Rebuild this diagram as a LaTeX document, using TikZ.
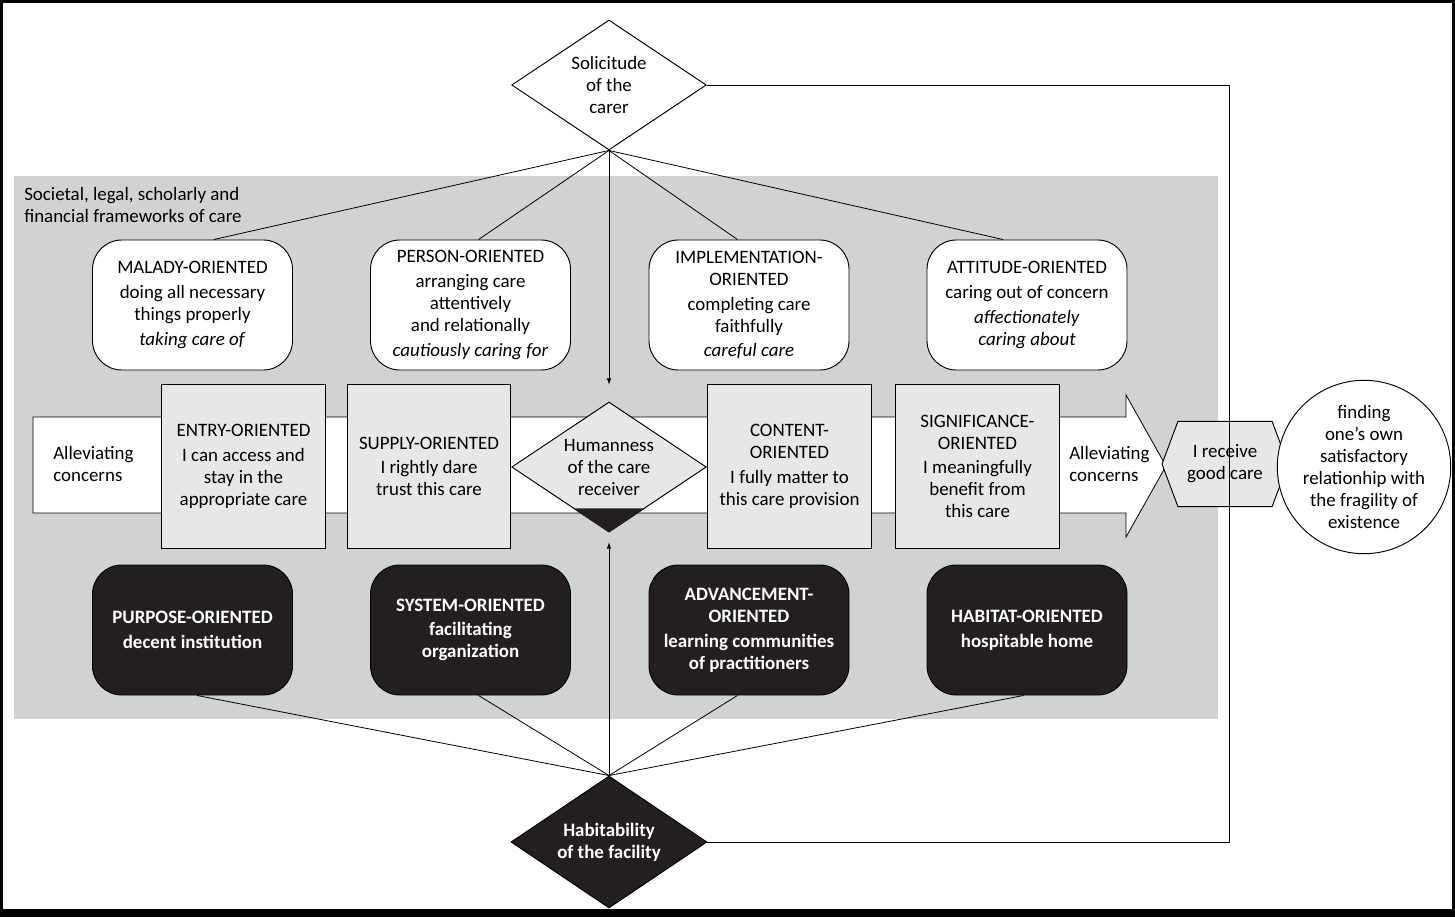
\documentclass[tikz,border=0pt]{standalone}
\usepackage{fontspec}
\setmainfont{Carlito}
\usetikzlibrary{shapes.geometric,shapes.symbols}
\definecolor{panelgray}{HTML}{D1D2D4}
\definecolor{boxgray}{HTML}{E6E7E8}
\definecolor{boxblack}{HTML}{231F20}
\tikzset{
  txt/.style={align=center, inner sep=0pt, font=\fontsize{14.2}{16.5}\selectfont},
  link/.style={line width=0.6pt},
  topbox/.style={txt, draw, line width=0.7pt, fill=white, rounded corners=22pt,
    minimum width=150pt, minimum height=97.5pt},
  basebox/.style={txt, draw, line width=0.7pt, fill=boxblack, text=white,
    font=\bfseries\fontsize{14.2}{16.5}\selectfont, rounded corners=22pt,
    minimum width=150pt, minimum height=97.5pt},
  midbox/.style={txt, draw, line width=0.7pt, fill=boxgray,
    minimum width=122.5pt, minimum height=122.5pt},
  gem/.style={txt, diamond, draw, line width=0.7pt, aspect=1.5},
}
\begin{document}
\begin{tikzpicture}[x=0.75pt, y=-0.75pt]
% page and frame
\fill[black] (0,0) rectangle (1455,917);
\fill[white] (3,3) rectangle (1452,909);
\useasboundingbox (0,0) rectangle (1455,917);
\fill[panelgray] (14,176) rectangle (1218,719);
\node[txt, align=left, anchor=north west] (frame) at (24,187) {Societal, legal, scholarly and\\financial frameworks of care};

% the care path
\draw[link, fill=white] (33,417) -- (1126,417) -- (1126,395) -- (1166,466) -- (1126,537) -- (1126,513) -- (33,513) -- cycle;
\node[txt, align=left, anchor=west] (allevL) at (53,464) {Alleviating\\concerns};
\node[txt, align=left, anchor=west] (allevR) at (1069,464) {Alleviating\\concerns};

% diamonds
\node[gem, fill=white, minimum width=146pt, minimum height=97.5pt] (sol) at (609,85) {Solicitude\\of the\\carer};
\node[gem, fill=boxgray, minimum width=146pt, minimum height=97.5pt] (hum) at (609,467) {Humanness\\of the care\\receiver};
\fill[boxblack] (hum.south) -- ++(-36,-24) -- ++(72,0) -- cycle;
\node[gem, fill=boxblack, text=white, font=\bfseries\fontsize{14.2}{16.5}\selectfont,
  minimum width=147pt, minimum height=99pt] (hab) at (609,842) {Habitability\\of the facility};

% top row
\node[topbox] (mal) at (192.5,305) {MALADY-ORIENTED\\[2pt]doing all necessary\\things properly\\[2pt]\textit{taking care of}};
\node[topbox] (pers) at (470.5,305) {PERSON-ORIENTED\\[2pt]arranging care\\attentively\\and relationally\\[2pt]\textit{cautiously caring for}};
\node[topbox] (impl) at (749,305) {IMPLEMENTATION-\\ORIENTED\\[2pt]completing care\\faithfully\\[2pt]\textit{careful care}};
\node[topbox] (att) at (1027,305) {ATTITUDE-ORIENTED\\[2pt]caring out of concern\\[2pt]\textit{affectionately}\\\textit{caring about}};

% middle row
\node[midbox] (entry) at (243.5,466.5) {ENTRY-ORIENTED\\[2pt]I can access and\\stay in the\\appropriate care};
\node[midbox] (supply) at (429,466.5) {SUPPLY-ORIENTED\\[2pt]I rightly dare\\trust this care};
\node[midbox] (content) at (789.5,466.5) {CONTENT-\\ORIENTED\\[2pt]I fully matter to\\this care provision};
\node[midbox] (sig) at (977.5,466.5) {SIGNIFICANCE-\\ORIENTED\\[2pt]I meaningfully\\benefit from\\this care};

% bottom row
\node[basebox] (purp) at (192.5,630) {PURPOSE-ORIENTED\\[2pt]decent institution};
\node[basebox] (sys) at (470.5,630) {SYSTEM-ORIENTED\\[2pt]facilitating\\organization};
\node[basebox] (adv) at (749,630) {ADVANCEMENT-\\ORIENTED\\[2pt]learning communities\\of practitioners};
\node[basebox] (home) at (1027,630) {HABITAT-ORIENTED\\[2pt]hospitable home};

% outcome
\node[txt, signal, signal to=west and east, signal pointer angle=139, draw, line width=0.7pt,
  fill=boxgray, minimum width=94.5pt, minimum height=64pt] (good) at (1225,464) {I receive\\good care};
\node[txt, circle, draw, line width=0.7pt, fill=white, minimum size=124.5pt] (exist) at (1364,467)
  {finding\\one’s own\\satisfactory\\relationhip with\\the fragility of\\existence};

% connectors
\foreach \b/\a in {mal/72.5, pers/83.4, impl/100.5, att/110.3}
  \draw[link] (sol.south) -- (\b.\a);
\foreach \b/\a in {purp/-86, sys/-83.4, adv/-100.5, home/-93.5}
  \draw[link] (hab.north) -- (\b.\a);
\draw[link, -latex] (sol.south) -- ([yshift=12.75pt]hum.north);
\draw[link, -latex] (hab.north) -- ([yshift=-7.5pt]hum.south);
\coordinate (turn) at (1229,85);
\draw[link] (sol.east) -- (turn) |- (hab.east);
\end{tikzpicture}
\end{document}
